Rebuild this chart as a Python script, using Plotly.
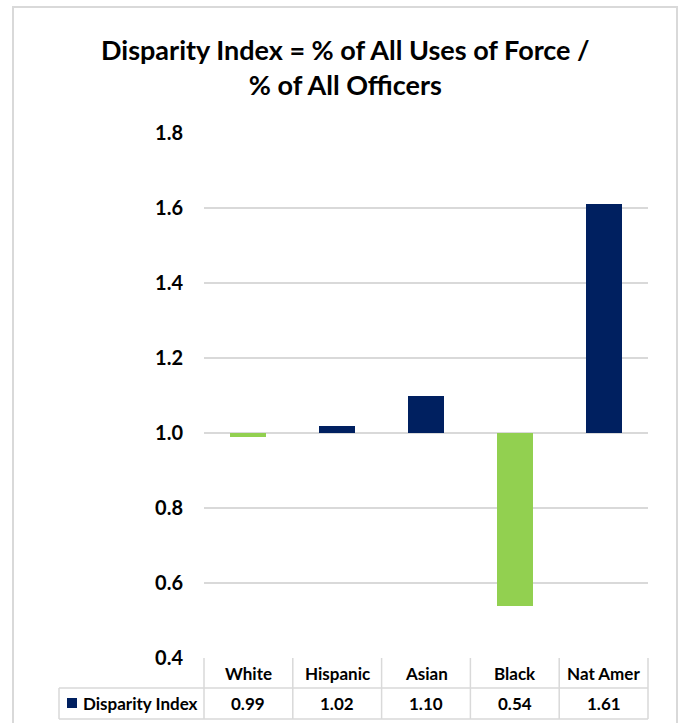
import plotly.graph_objects as go

# Chart data
categories = ["White", "Hispanic", "Asian", "Black", "Nat Amer"]
disparity_index = [0.99, 1.02, 1.10, 0.54, 1.61]
series_name = "Disparity Index"
baseline = 1.0
y_ticks = [0.4, 0.6, 0.8, 1.0, 1.2, 1.4, 1.6, 1.8]
title_lines = ["Disparity Index = % of All Uses of Force /", "% of All Officers"]

NAVY = "#002060"
GREEN = "#92D050"
GRID = "#D9D9D9"
FONT = "Lato, Roboto, sans-serif"

W, H = 687, 723
L, R, T, B = 204, 39, 133, 65          # plot area margins (px)
plot_h = H - T - B
plot_w = W - L - R

def py(px_y):
    """Convert a page pixel row into paper y units."""
    return (H - B - px_y) / plot_h

def px(px_x):
    """Convert a page pixel column into paper x units."""
    return (px_x - L) / plot_w

colors = [NAVY if v >= baseline else GREEN for v in disparity_index]

fig = go.Figure(go.Bar(
    x=categories,
    y=[v - baseline for v in disparity_index],
    base=baseline,
    marker=dict(color=colors, line=dict(width=0)),
    width=0.405,
    hoverinfo="skip",
))

shapes = []
annotations = []
line = dict(color=GRID, width=1.5)
cell_font = dict(size=17, color="#000000", family=FONT, weight="bold")

# Data table below the plot area
header_top, header_bot, row_bot = H - B, 688, 719
row_left = 59
n = len(categories)
# horizontal rules
for yy in (header_bot, row_bot):
    shapes.append(dict(type="line", xref="paper", yref="paper", x0=px(row_left), x1=1,
                       y0=py(yy), y1=py(yy), line=line))
# vertical rules
shapes.append(dict(type="line", xref="paper", yref="paper", x0=px(row_left), x1=px(row_left),
                   y0=py(header_bot), y1=py(row_bot), line=line))
for k in range(n + 1):
    xk = k / n
    shapes.append(dict(type="line", xref="paper", yref="paper", x0=xk, x1=xk,
                       y0=0, y1=py(row_bot), line=line))

for i, (cat, val) in enumerate(zip(categories, disparity_index)):
    annotations.append(dict(x=(i + 0.5) / n, y=py((header_top + header_bot) / 2),
                            xref="paper", yref="paper", xanchor="center", yanchor="middle",
                            text=cat, showarrow=False, font=cell_font))
    annotations.append(dict(x=(i + 0.5) / n, y=py((header_bot + row_bot) / 2),
                            xref="paper", yref="paper", xanchor="center", yanchor="middle",
                            text=f"{val:.2f}", showarrow=False, font=cell_font))

# legend key and series label in the table row
shapes.append(dict(type="rect", xref="paper", yref="paper", x0=px(67), x1=px(77),
                   y0=py(698), y1=py(708), fillcolor=NAVY, line=dict(width=0)))
annotations.append(dict(x=px(81), y=py((header_bot + row_bot) / 2), xref="paper", yref="paper",
                        xanchor="left", yanchor="middle", text=series_name, showarrow=False,
                        font=cell_font))

# chart title
annotations.append(dict(x=px(345), y=py(67), xref="paper", yref="paper",
                        xanchor="center", yanchor="middle", showarrow=False,
                        text="<br>".join(title_lines),
                        font=dict(size=27, color="#000000", family=FONT, weight="bold")))

# outer chart border
shapes.append(dict(type="rect", xref="paper", yref="paper", x0=px(13), x1=px(677),
                   y0=py(7), y1=py(730), line=dict(color=GRID, width=2), layer="below"))

fig.update_layout(
    width=W, height=H,
    margin=dict(l=L, r=R, t=T, b=B),
    paper_bgcolor="white", plot_bgcolor="white",
    showlegend=False,
    bargap=0,
    xaxis=dict(range=[-0.5, n - 0.5], showticklabels=False, showgrid=False,
               zeroline=False, showline=False, fixedrange=True),
    yaxis=dict(range=[0.4, 1.8], tickvals=y_ticks, tickformat=".1f",
               showgrid=True, gridcolor=GRID, gridwidth=1.5, zeroline=False,
               showline=False, ticks="", ticklabelstandoff=20,
               tickfont=dict(size=20, color="#000000", family=FONT, weight="bold"),
               fixedrange=True),
    shapes=shapes,
    annotations=annotations,
)

fig.write_html("out.html")
